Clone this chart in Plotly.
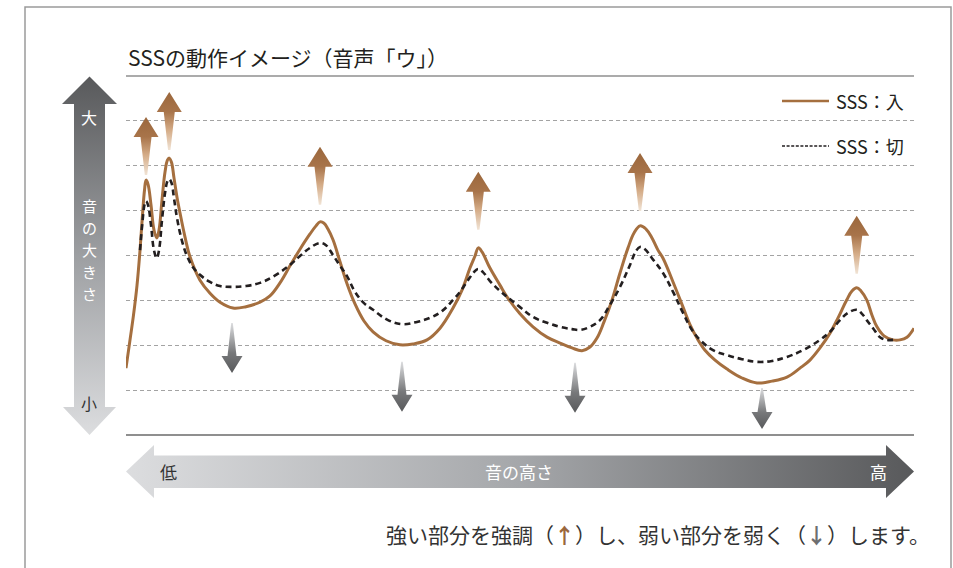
import plotly.graph_objects as go

# ---------------- data ----------------
# x: pitch (0 = low ... 100 = high), y: loudness level (0 .. 8)
pitch_on = [0.00, 0.51, 0.95, 1.40, 1.78, 2.09, 2.35, 2.54, 2.79, 3.17, 3.55, 3.90, 4.19, 4.57, 4.95,
            5.27, 5.49, 5.77, 6.09, 6.47, 6.85, 7.49, 8.12, 9.39, 10.66, 11.93, 13.58, 15.23, 17.01,
            18.27, 19.54, 20.81, 22.08, 23.35, 24.11, 24.62, 25.13, 25.63, 26.27, 27.16, 28.05, 29.06,
            30.20, 31.35, 33.00, 34.77, 36.42, 38.20, 39.85, 41.50, 42.64, 43.65, 44.29, 44.71, 45.18,
            46.19, 47.46, 48.35, 50.00, 51.65, 53.43, 55.08, 56.60, 57.87, 58.88, 59.77, 60.66, 61.68,
            62.69, 63.71, 64.47, 65.23, 65.99, 66.75, 67.51, 68.15, 69.42, 70.69, 71.57, 72.46, 73.48,
            74.75, 76.27, 78.17, 80.08, 81.98, 83.88, 85.53, 86.80, 88.07, 89.34, 90.36, 91.46, 92.13,
            92.73, 93.27, 94.00, 94.67, 95.30, 96.19, 97.34, 98.22, 99.11, 100.00]
level_on = [1.49, 2.12, 2.67, 3.34, 4.12, 4.90, 5.46, 5.68, 5.59, 5.13, 4.57, 4.39, 4.57, 5.24, 5.86,
            6.13, 6.17, 6.08, 5.73, 5.30, 4.95, 4.41, 3.97, 3.45, 3.16, 2.96, 2.83, 2.86, 2.96,
            3.10, 3.39, 3.77, 4.14, 4.48, 4.66, 4.75, 4.72, 4.59, 4.35, 3.86, 3.37, 2.92,
            2.54, 2.30, 2.10, 2.01, 2.03, 2.12, 2.38, 2.83, 3.23, 3.72, 3.99, 4.17, 4.08,
            3.72, 3.34, 3.08, 2.70, 2.41, 2.18, 2.05, 1.94, 1.88, 1.96, 2.16, 2.52, 3.01,
            3.61, 4.17, 4.50, 4.66, 4.59, 4.39, 4.12, 3.94, 3.41, 2.85, 2.46, 2.16, 1.89,
            1.67, 1.47, 1.27, 1.16, 1.20, 1.29, 1.49, 1.67, 1.94, 2.27, 2.61, 3.01, 3.21,
            3.28, 3.21, 3.01, 2.67, 2.41, 2.21, 2.12, 2.12, 2.18, 2.38]

pitch_off = [1.78, 2.09, 2.35, 2.54, 2.79, 3.17, 3.55, 3.90, 4.19, 4.57, 4.95, 5.27, 5.49, 5.77, 6.09,
             6.47, 7.07, 7.74, 8.50, 9.39, 10.66, 11.93, 13.58, 15.23, 17.01, 18.78, 20.81, 22.08,
             23.35, 24.62, 25.38, 26.27, 27.16, 28.05, 29.06, 30.20, 31.35, 33.25, 35.15, 36.93,
             38.58, 40.10, 41.50, 42.39, 43.40, 44.16, 44.67, 45.30, 46.19, 47.46, 48.35, 50.00,
             51.65, 53.43, 55.08, 56.60, 57.61, 58.88, 60.15, 61.42, 62.69, 63.96, 64.72, 65.23,
             65.86, 66.75, 68.15, 69.42, 70.69, 71.83, 72.84, 74.49, 76.27, 78.17, 80.08, 81.98,
             83.88, 85.91, 88.07, 89.34, 90.61, 91.62, 92.73, 93.40, 94.00, 94.80, 95.69, 96.57, 97.34]
level_off = [4.12, 4.75, 5.13, 5.21, 5.13, 4.68, 4.12, 3.94, 4.12, 4.79, 5.39, 5.66, 5.70, 5.62, 5.28,
             4.84, 4.35, 3.99, 3.74, 3.57, 3.41, 3.32, 3.30, 3.32, 3.39, 3.54, 3.79, 3.99,
             4.17, 4.28, 4.23, 4.01, 3.77, 3.54, 3.19, 2.94, 2.79, 2.56, 2.47, 2.52,
             2.61, 2.76, 3.01, 3.19, 3.45, 3.63, 3.70, 3.63, 3.43, 3.21, 3.08, 2.85,
             2.63, 2.50, 2.41, 2.36, 2.34, 2.41, 2.56, 2.90, 3.30, 3.79, 4.10, 4.19,
             4.14, 3.94, 3.61, 3.19, 2.72, 2.34, 2.12, 1.89, 1.78, 1.69, 1.63, 1.65,
             1.74, 1.89, 2.12, 2.30, 2.56, 2.72, 2.79, 2.70, 2.56, 2.38, 2.18, 2.12, 2.12]

grid_levels = [1, 2, 3, 4, 5, 6, 7]
level_max = 8

title_text = "SSSの動作イメージ（音声「ウ」）"
legend_on = "SSS：入"
legend_off = "SSS：切"
y_label_top, y_label, y_label_bottom = "大", "音の大きさ", "小"
x_label_left, x_label, x_label_right = "低", "音の高さ", "高"
note_parts = ["強い部分を強調（", "↑", "）し、弱い部分を弱く（", "↓", "）します。"]

# ---------------- geometry / styles ----------------
W, H = 953, 568
PX0, PX1 = 126, 914
PY_TOP, PY_BOT = 76, 435
XU = (PX1 - PX0) / 100.0            # px per pitch unit
YU = (PY_BOT - PY_TOP) / level_max  # px per level unit

BROWN = "#a56f3f"
DARK = "#231f20"
FONT = "Noto Sans CJK JP"


def px(x):
    return x / W


def py(y):
    return 1 - y / H


fig = go.Figure()

# ----- curves -----
fig.add_trace(go.Scatter(x=pitch_on, y=level_on, mode="lines", hoverinfo="skip", showlegend=False,
                         line=dict(color=BROWN, width=3, shape="spline", smoothing=1.1)))
fig.add_trace(go.Scatter(x=pitch_off, y=level_off, mode="lines", hoverinfo="skip", showlegend=False,
                         line=dict(color=DARK, width=2.6, dash="6px,4px", shape="spline", smoothing=1.1)))

# ----- emphasis arrows derived from the curve extrema -----
peaks = [i for i in range(1, len(level_on) - 1) if level_on[i] > level_on[i - 1] and level_on[i] >= level_on[i + 1]]
troughs = [i for i in range(1, len(level_on) - 1) if level_on[i] < level_on[i - 1] and level_on[i] <= level_on[i + 1]]
troughs_marked = troughs[1:5]

up_gap_px = [5, 8, 17, 18, 15, 14]
down_gap_px = [15, 17, 12, 5]
down_len_px = [50, 50, 50, 41]
down_dx_px = [-1, 2, -7, 5]


def up_arrow(i, gap):
    xc = pitch_on[i]
    tail = level_on[i] + gap / YU
    tip = tail + 58 / YU
    hb = tip - 20 / YU
    hw, sw1, sw0 = 12.5 / XU, 5.5 / XU, 1.2 / XU
    xs = [xc, xc + hw, xc + sw1, xc + sw0, xc - sw0, xc - sw1, xc - hw, xc]
    ys = [tip, hb, hb, tail, tail, hb, hb, tip]
    fig.add_trace(go.Scatter(
        x=xs, y=ys, mode="lines", fill="toself", line=dict(width=0), hoverinfo="skip", showlegend=False,
        fillgradient=dict(type="vertical", start=tail, stop=tip,
                          colorscale=[[0, "#f1e4d6"], [0.35, "#d4ab86"], [0.66, "#a8744a"], [1, "#9b673c"]])))


def down_arrow(i, gap, length, dx):
    xc = pitch_on[i] + dx / XU
    top = level_on[i] - gap / YU
    tip = top - length / YU
    hb = tip + 17 / YU
    hw, sw1, sw0 = 10.5 / XU, 4.5 / XU, 0.8 / XU
    xs = [xc, xc + hw, xc + sw1, xc + sw0, xc - sw0, xc - sw1, xc - hw, xc]
    ys = [tip, hb, hb, top, top, hb, hb, tip]
    fig.add_trace(go.Scatter(
        x=xs, y=ys, mode="lines", fill="toself", line=dict(width=0), hoverinfo="skip", showlegend=False,
        fillgradient=dict(type="vertical", start=tip, stop=top,
                          colorscale=[[0, "#58595b"], [0.4, "#77787a"], [1, "#dcdddf"]])))


for k, i in enumerate(peaks):
    up_arrow(i, up_gap_px[k] if k < len(up_gap_px) else 14)
for k, i in enumerate(troughs_marked):
    down_arrow(i, down_gap_px[k], down_len_px[k], down_dx_px[k])


# ----- big axis arrows on an overlay pixel axis -----
def Y(v):
    return H - v


vx = [89.5, 117, 105, 105, 116, 89.5, 63, 74, 74, 62, 89.5]
vy = [76.5, 104, 104, 407, 407, 435, 407, 407, 104, 104, 76.5]
fig.add_trace(go.Scatter(
    x=vx, y=[Y(v) for v in vy], xaxis="x2", yaxis="y2", mode="lines", fill="toself",
    line=dict(width=0), hoverinfo="skip", showlegend=False,
    fillgradient=dict(type="vertical", start=Y(435), stop=Y(76.5),
                      colorscale=[[0, "#dcdddf"], [0.5, "#9d9fa2"], [1, "#58595b"]])))

hx = [126, 154, 154, 886, 886, 914, 886, 886, 154, 154, 126]
hy = [471.5, 445, 455.5, 455.5, 445, 471.5, 498, 488, 488, 498, 471.5]
fig.add_trace(go.Scatter(
    x=hx, y=[Y(v) for v in hy], xaxis="x2", yaxis="y2", mode="lines", fill="toself",
    line=dict(width=0), hoverinfo="skip", showlegend=False,
    fillgradient=dict(type="horizontal", start=126, stop=914,
                      colorscale=[[0, "#dcdddf"], [0.5, "#a5a7aa"], [1, "#58595b"]])))

# ----- shapes -----
shapes = [
    dict(type="rect", xref="paper", yref="paper", x0=px(25), x1=px(951), y0=py(600), y1=py(7),
         line=dict(color="#9a9a9a", width=1.5), layer="below"),
    dict(type="line", xref="paper", yref="paper", x0=px(PX0), x1=px(PX1), y0=py(PY_TOP), y1=py(PY_TOP),
         line=dict(color="#8f8f8f", width=1.5)),
    dict(type="line", xref="paper", yref="paper", x0=px(PX0), x1=px(PX1), y0=py(PY_BOT), y1=py(PY_BOT),
         line=dict(color="#8f8f8f", width=2)),
    dict(type="line", xref="paper", yref="paper", x0=px(782), x1=px(829), y0=py(101), y1=py(101),
         line=dict(color=BROWN, width=2.5)),
    dict(type="line", xref="paper", yref="paper", x0=px(782), x1=px(829), y0=py(146), y1=py(146),
         line=dict(color=DARK, width=1.6, dash="3px,1.6px")),
]


# ----- text -----
def ann(text, x, y, size, color, xanchor="center", **kw):
    return dict(text=text, x=px(x), y=py(y), xref="paper", yref="paper", showarrow=False,
                xanchor=xanchor, yanchor="middle", font=dict(family=FONT, size=size, color=color), **kw)


note_html = (note_parts[0] + "<b><span style='color:#9b673c'>" + note_parts[1] + "</span></b>"
             + note_parts[2] + "<b><span style='color:#6d6e70'>" + note_parts[3] + "</span></b>"
             + note_parts[4])

annotations = [
    ann(title_text, 126, 57, 21, DARK, xanchor="left"),
    ann(legend_on, 834, 101, 18, DARK, xanchor="left"),
    ann(legend_off, 834, 146, 18, DARK, xanchor="left"),
    ann(y_label_top, 89, 117, 16, "white"),
    ann(y_label_bottom, 89, 403, 16, "#333333"),
    ann(x_label_left, 168, 471, 17, "#333333"),
    ann(x_label, 519, 471, 17, "white"),
    ann(x_label_right, 878, 471, 17, "white"),
    ann(note_html, 932, 534, 21, "#333333", xanchor="right"),
]
for k, ch in enumerate(y_label):
    annotations.append(ann(ch, 89, 205.2 + 22 * k, 15, "white"))

fig.update_layout(
    width=W, height=H, margin=dict(l=0, r=0, t=0, b=0),
    paper_bgcolor="white", plot_bgcolor="rgba(0,0,0,0)",
    showlegend=False, shapes=shapes, annotations=annotations,
    xaxis=dict(domain=[px(PX0), px(PX1)], range=[0, 100], visible=False, fixedrange=True),
    yaxis=dict(domain=[py(PY_BOT), py(PY_TOP)], range=[0, level_max], tickvals=grid_levels,
               showticklabels=False, ticks="", showgrid=True, gridcolor="#a3a3a3", gridwidth=1,
               griddash="4px,3px", zeroline=False, showline=False, fixedrange=True),
    xaxis2=dict(domain=[0, 1], range=[0, W], visible=False, anchor="y2", fixedrange=True),
    yaxis2=dict(domain=[0, 1], range=[0, H], visible=False, anchor="x2", fixedrange=True),
)

fig.write_html("out.html", config={"displayModeBar": False},
               post_script="document.body.style.margin='0';document.body.style.overflow='hidden';")
